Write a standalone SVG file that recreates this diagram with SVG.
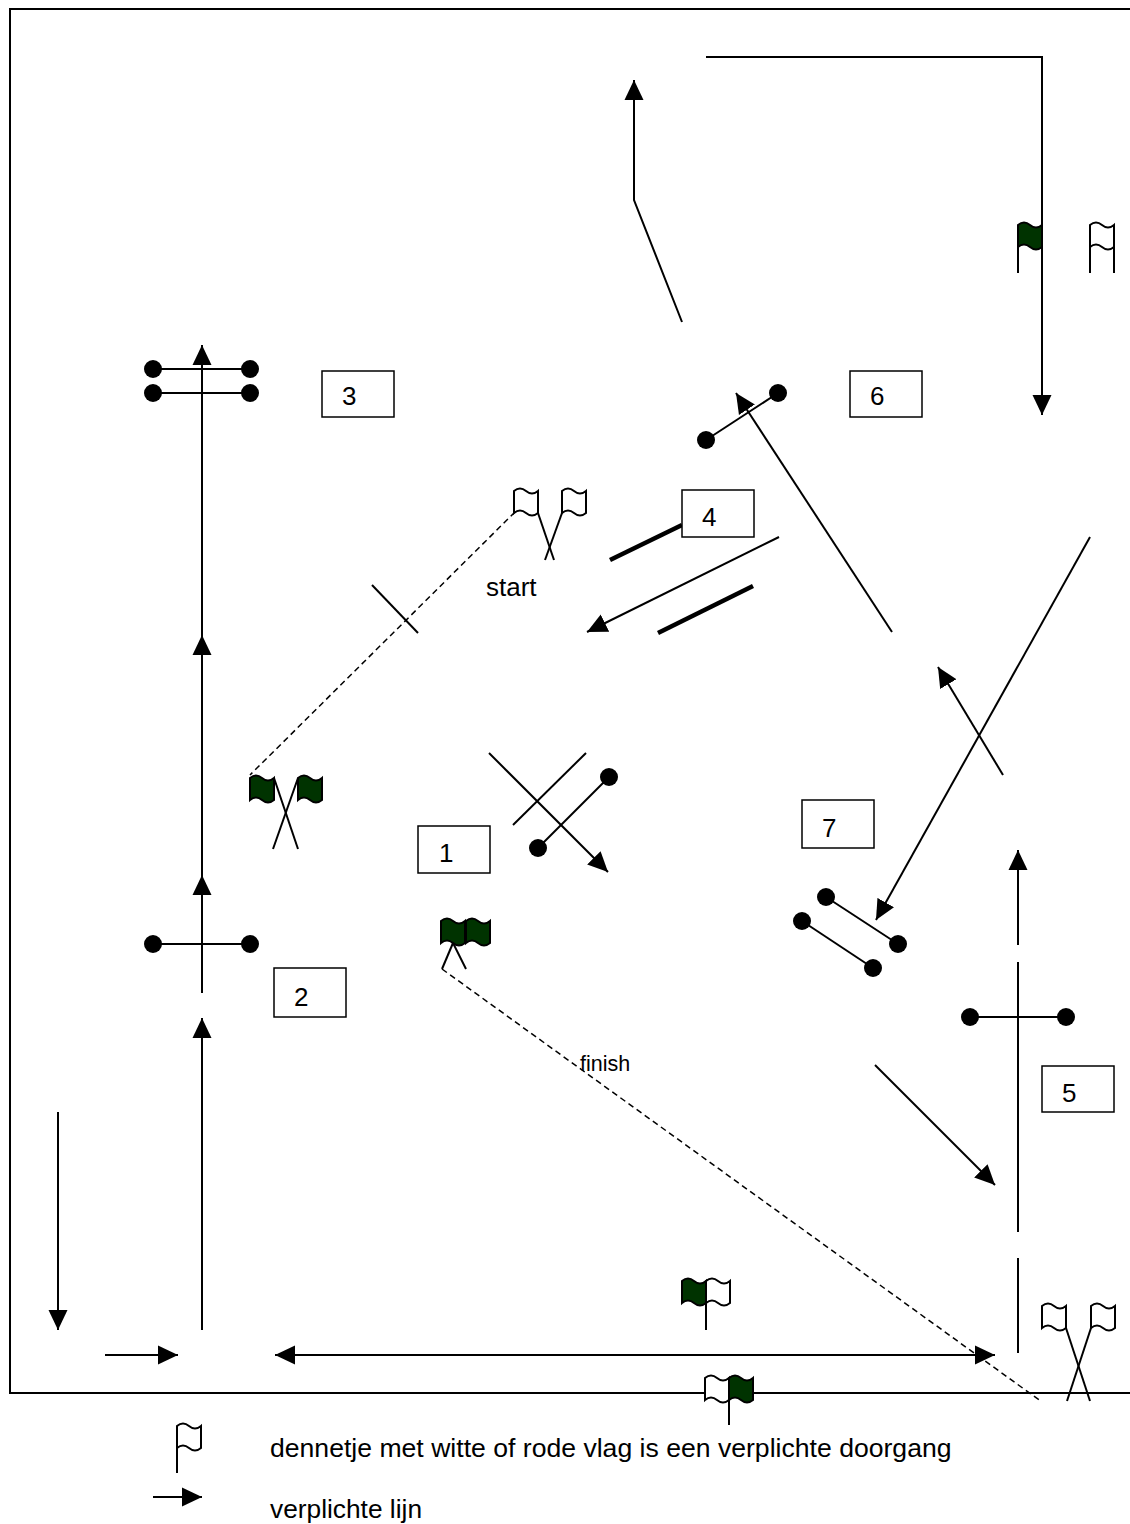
<svg xmlns="http://www.w3.org/2000/svg" xmlns:xlink="http://www.w3.org/1999/xlink" width="1130" height="1524" viewBox="0 0 1130 1524">
<style>
.ln{stroke:#000;stroke-width:2;fill:none}
.th{stroke:#000;stroke-width:4.5;fill:none}
.ds{stroke:#000;stroke-width:1.5;fill:none;stroke-dasharray:6,4}
.bx{fill:#fff;stroke:#000;stroke-width:1.5}
.dot{fill:#000}
.t{font-family:"Liberation Sans",Arial,sans-serif;fill:#000}
.num{font-size:26px}
.wf{fill:#fff;stroke:#000;stroke-width:2}
.gf{fill:#003300;stroke:#000;stroke-width:2}
.ar{marker-end:url(#ah)}
</style>
<defs>
<marker id="ah" markerUnits="userSpaceOnUse" markerWidth="20" markerHeight="20" refX="20" refY="10" orient="auto-start-reverse"><path d="M0,0.5 L20,10 L0,19.5 Z" fill="#000"/></marker>
<path id="flag" d="M0,0 Q6,-5 12,0 T24,0 L24,22 Q18,27 12,22 T0,22 Z"/>
</defs>
<rect width="1130" height="1524" fill="#fff"/>
<g id="frame">
<path class="ln" d="M1130,9 L10,9 L10,1393 L1130,1393"/>
</g>
<g id="connectors">
<path class="ln ar" d="M706,57 L1042,57 L1042,415"/>
<path class="ln ar" d="M682,322 L634,200 L634,80"/>
<line class="ln ar" x1="202" y1="1330" x2="202" y2="1018"/>
<line class="ln ar" x1="202" y1="993" x2="202" y2="875"/>
<line class="ln ar" x1="202" y1="875" x2="202" y2="635"/>
<line class="ln ar" x1="202" y1="635" x2="202" y2="345"/>
<line class="ln ar" x1="779" y1="537" x2="587" y2="632"/>
<line class="ln ar" x1="892" y1="632" x2="736" y2="393"/>
<line class="ln ar" x1="1090" y1="537" x2="876" y2="920"/>
<line class="ln ar" x1="1003" y1="775" x2="938" y2="667"/>
<line class="ln ar" x1="489" y1="753" x2="608" y2="872"/>
<line class="ln ar" x1="875" y1="1065" x2="995" y2="1185"/>
<line class="ln ar" x1="1018" y1="945" x2="1018" y2="850"/>
<line class="ln" x1="1018" y1="962" x2="1018" y2="1232"/>
<line class="ln" x1="1018" y1="1258" x2="1018" y2="1353"/>
<line class="ln ar" x1="58" y1="1112" x2="58" y2="1330"/>
<line class="ln ar" x1="105" y1="1355" x2="178" y2="1355"/>
<line class="ln ar" x1="275" y1="1355" x2="995" y2="1355" style="marker-start:url(#ah)"/>
<line class="ds" x1="515" y1="512" x2="250" y2="775"/>
<line class="ln" x1="372" y1="585" x2="418" y2="633"/>
<line class="ds" x1="442" y1="969" x2="1042" y2="1402"/>
<line class="ln" x1="513" y1="825" x2="586" y2="753"/>
</g>
<g id="jump3">
<line class="ln" x1="153" y1="369" x2="250" y2="369"/>
<line class="ln" x1="153" y1="393" x2="250" y2="393"/>
<circle class="dot" cx="153" cy="369" r="9"/><circle class="dot" cx="250" cy="369" r="9"/>
<circle class="dot" cx="153" cy="393" r="9"/><circle class="dot" cx="250" cy="393" r="9"/>
</g>
<g id="jump2">
<line class="ln" x1="153" y1="944" x2="250" y2="944"/>
<circle class="dot" cx="153" cy="944" r="9"/><circle class="dot" cx="250" cy="944" r="9"/>
</g>
<g id="jump1">
<line class="ln" x1="538" y1="848" x2="609" y2="777"/>
<circle class="dot" cx="609" cy="777" r="9"/><circle class="dot" cx="538" cy="848" r="9"/>
</g>
<g id="jump4">
<line class="th" x1="610" y1="560" x2="682" y2="525"/>
<line class="th" x1="658" y1="633" x2="753" y2="586"/>
</g>
<g id="jump6">
<line class="ln" x1="706" y1="440" x2="778" y2="393"/>
<circle class="dot" cx="706" cy="440" r="9"/><circle class="dot" cx="778" cy="393" r="9"/>
</g>
<g id="jump7">
<line class="ln" x1="826" y1="897" x2="898" y2="944"/>
<line class="ln" x1="802" y1="921" x2="873" y2="968"/>
<circle class="dot" cx="826" cy="897" r="9"/><circle class="dot" cx="898" cy="944" r="9"/>
<circle class="dot" cx="802" cy="921" r="9"/><circle class="dot" cx="873" cy="968" r="9"/>
</g>
<g id="jump5">
<line class="ln" x1="970" y1="1017" x2="1066" y2="1017"/>
<circle class="dot" cx="970" cy="1017" r="9"/><circle class="dot" cx="1066" cy="1017" r="9"/>
</g>
<g id="box1"><rect class="bx" x="418" y="826" width="72" height="47"/><text class="t num" x="439" y="862">1</text></g>
<g id="box2"><rect class="bx" x="274" y="968" width="72" height="49"/><text class="t num" x="294" y="1006">2</text></g>
<g id="box3"><rect class="bx" x="322" y="371" width="72" height="46"/><text class="t num" x="342" y="405">3</text></g>
<g id="box4"><rect class="bx" x="682" y="490" width="72" height="47"/><text class="t num" x="702" y="526">4</text></g>
<g id="box5"><rect class="bx" x="1042" y="1066" width="72" height="46"/><text class="t num" x="1062" y="1102">5</text></g>
<g id="box6"><rect class="bx" x="850" y="371" width="72" height="46"/><text class="t num" x="870" y="405">6</text></g>
<g id="box7"><rect class="bx" x="802" y="800" width="72" height="48"/><text class="t num" x="822" y="837">7</text></g>
<g id="flags-top-right">
<use href="#flag" class="gf" x="1018" y="225"/>
<line class="ln" x1="1018" y1="225" x2="1018" y2="273"/>
<use href="#flag" class="wf" x="1090" y="225"/>
<line class="ln" x1="1090" y1="225" x2="1090" y2="273"/>
<line class="ln" x1="1114" y1="225" x2="1114" y2="273"/>
</g>
<g id="start">
<use href="#flag" class="wf" x="514" y="491"/>
<use href="#flag" class="wf" x="562" y="491"/>
<line class="ln" x1="538" y1="513" x2="554" y2="560"/>
<line class="ln" x1="562" y1="513" x2="545" y2="560"/>
<text class="t" x="486" y="596" font-size="26">start</text>
</g>
<g id="flags-left">
<use href="#flag" class="gf" x="250" y="778"/>
<use href="#flag" class="gf" x="298" y="778"/>
<line class="ln" x1="274" y1="778" x2="298" y2="849"/>
<line class="ln" x1="298" y1="778" x2="273" y2="849"/>
</g>
<g id="finish">
<use href="#flag" class="gf" x="441" y="921"/>
<use href="#flag" class="gf" x="466" y="921"/>
<line class="ln" x1="453" y1="943" x2="442" y2="969"/>
<line class="ln" x1="453" y1="943" x2="466" y2="969"/>
<text class="t" x="580" y="1071" font-size="21.5">finish</text>
</g>
<g id="flags-bottom-mid">
<use href="#flag" class="gf" x="682" y="1281"/>
<use href="#flag" class="wf" x="706" y="1281"/>
<line class="ln" x1="706" y1="1281" x2="706" y2="1330"/>
</g>
<g id="flags-bottom-border">
<use href="#flag" class="wf" x="705" y="1378"/>
<use href="#flag" class="gf" x="729" y="1378"/>
<line class="ln" x1="729" y1="1378" x2="729" y2="1425"/>
</g>
<g id="flags-bottom-right">
<use href="#flag" class="wf" x="1042" y="1306"/>
<use href="#flag" class="wf" x="1091" y="1306"/>
<line class="ln" x1="1066" y1="1328" x2="1090" y2="1401"/>
<line class="ln" x1="1091" y1="1328" x2="1067" y2="1401"/>
</g>
<g id="legend">
<use href="#flag" class="wf" x="177" y="1426"/>
<line class="ln" x1="177" y1="1426" x2="177" y2="1473"/>
<text class="t" x="270" y="1457" font-size="26.6">dennetje met witte of rode vlag is een verplichte doorgang</text>
<line class="ln ar" x1="153" y1="1497" x2="202" y2="1497"/>
<text class="t" x="270" y="1518" font-size="26.3">verplichte lijn</text>
</g>
</svg>
